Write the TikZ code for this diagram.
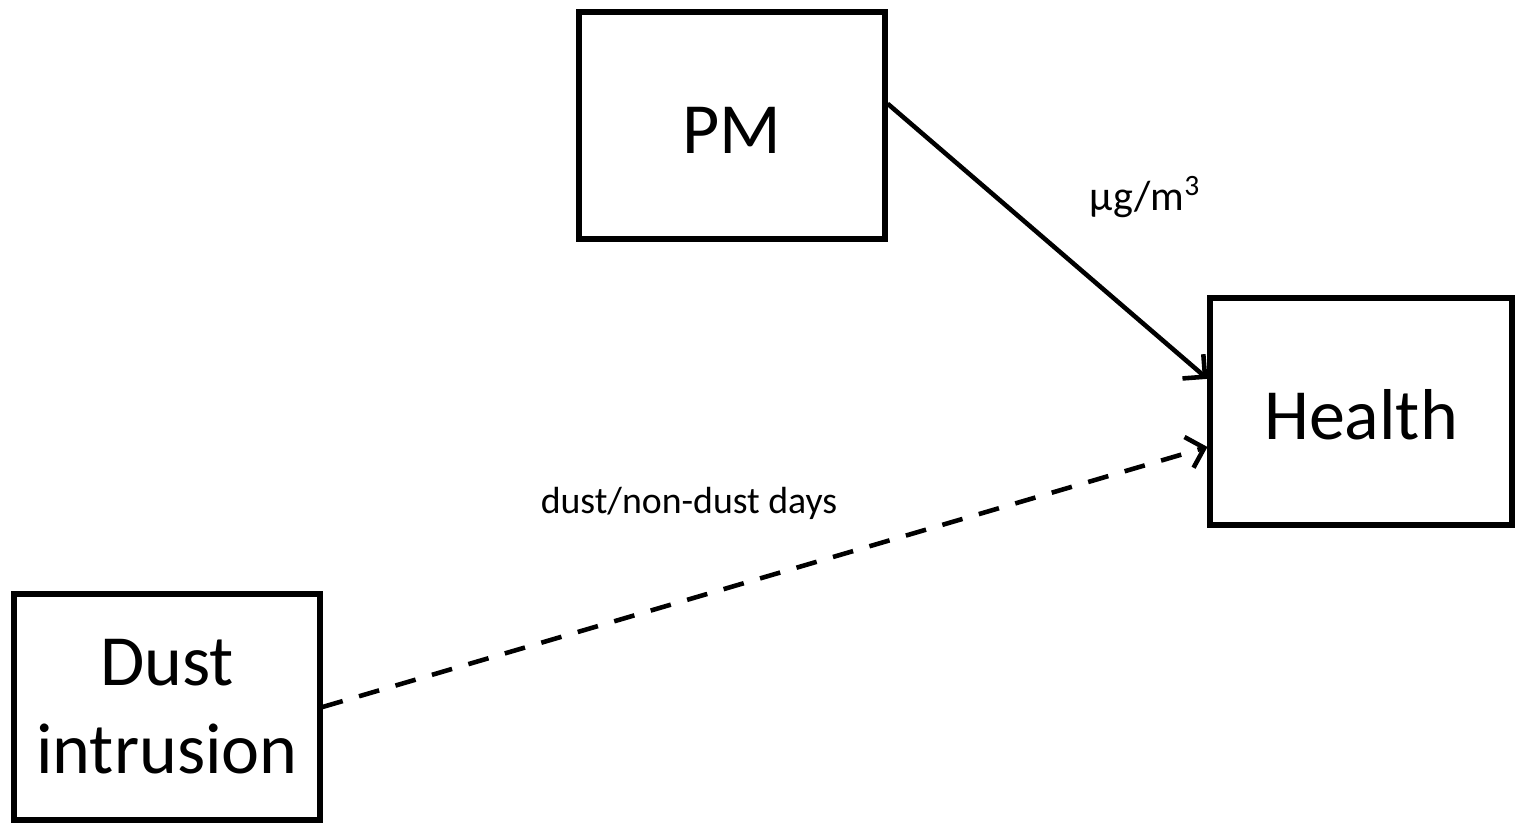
\documentclass[tikz,border=0pt]{standalone}
\usepackage{fontspec}
\setmainfont{Carlito}
\usetikzlibrary{positioning,arrows.meta}

\tikzset{
    factor/.style={draw, line width=2.9pt, rectangle, align=center, font=\fontsize{41}{50}\selectfont, inner sep=0pt},
    oneline/.style={text height=1.12cm, text depth=0pt},
    link/.style={line width=2.6pt, -{Straight Barb[length=0.32cm,width=0.64cm]}},
    tag/.style={font=\fontsize{21.5}{25}\selectfont}
}

\begin{document}
\begin{tikzpicture}
    \useasboundingbox (0,0) rectangle (30.32,16.5);

    \node (pm) [factor, oneline, minimum width=6.12cm, minimum height=4.54cm] at (14.64,13.99) {PM};
    \node (health) [factor, oneline, minimum width=6.04cm, minimum height=4.54cm] at (27.22,8.27) {Health};
    \node (dust) [factor, minimum width=6.12cm, minimum height=4.52cm] at (3.34,2.36) {Dust\\intrusion};

    \node (unit) [tag, font=\fontsize{24}{28}\selectfont] at (22.9,12.56) {µg/m\textsuperscript{3}};
    \node (days) [tag] at (13.78,6.44) {dust/non-dust days};

    \draw [link] (pm.8) -- (health.168);
    \draw [link, dash pattern=on 0.42cm off 0.34cm] (dust.east) -- (health.193);

\end{tikzpicture}
\end{document}
